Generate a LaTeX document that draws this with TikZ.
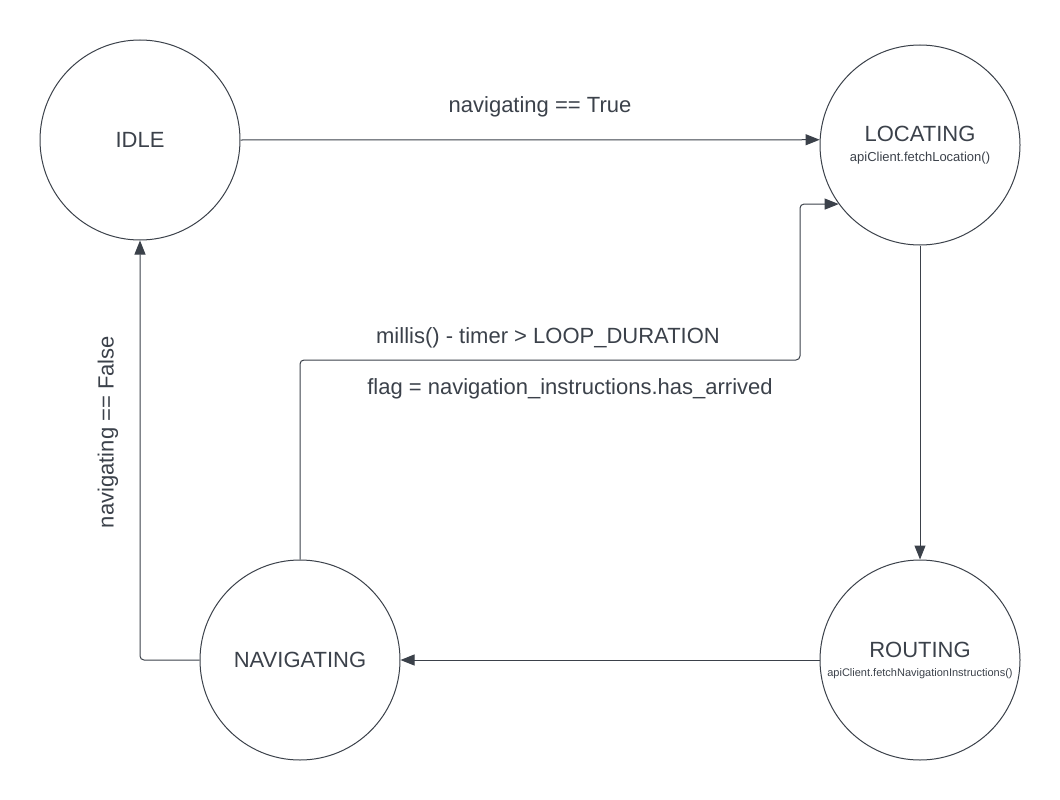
\documentclass[tikz,border=0pt]{standalone}
\usepackage{fontspec}
\setmainfont{Liberation Sans}
\usetikzlibrary{arrows.meta}
\definecolor{ink}{HTML}{3B414A}

\begin{document}
\begin{tikzpicture}[x=1pt, y=-1pt,
  state/.style={circle, draw=ink, line width=1pt, minimum size=200pt, inner sep=0pt, align=center, text=ink, font=\fontsize{22}{24}\selectfont},
  link/.style={draw=ink, line width=1pt, rounded corners=4pt, -{Triangle[length=14pt, width=11pt]}},
  lbl/.style={text=ink, font=\fontsize{22}{24}\selectfont, inner sep=0pt}]
\useasboundingbox (0,0) rectangle (1060,800);
\node[name=idle, state] at (140,140) {IDLE};
\node[name=loc, state] at (920,145) {LOCATING\\[-4pt]{\fontsize{13}{15}\selectfont apiClient.fetchLocation()}};
\node[name=rout, state] at (920,660) {ROUTING\\[-5pt]{\fontsize{11}{13}\selectfont apiClient.fetchNavigationInstructions()}};
\node[name=nav, state] at (300,660) {NAVIGATING};
\coordinate (turn) at (800,360);
\draw[link] (idle.east) -- (loc.177.13);
\draw[link] (loc.south) -- (rout.north);
\draw[link] (rout.west) -- (nav.east);
\draw[link] (nav.west) -| (idle.south);
\draw[link] (nav.north) |- (turn) |- (loc.216.87);
\node[name=ltrue, lbl] at (540,107) {navigating == True};
\node[name=lfalse, lbl, rotate=90] at (108,432) {navigating == False};
\node[name=lloop, lbl] at (548,338) {millis() - timer > LOOP\_DURATION};
\node[name=lflag, lbl] at (570,389) {flag = navigation\_instructions.has\_arrived};
\end{tikzpicture}
\end{document}
